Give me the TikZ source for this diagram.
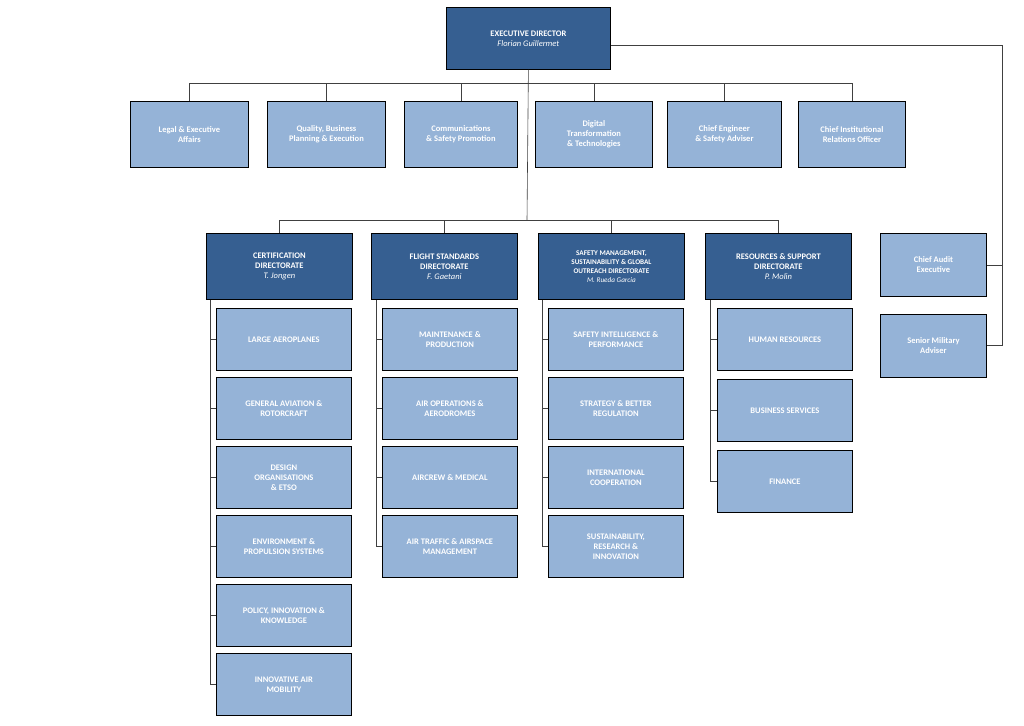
\documentclass[tikz,border=0pt]{standalone}
\usepackage{fontspec}
\setmainfont{Carlito}
\definecolor{dk}{HTML}{365F91}
\definecolor{lt}{HTML}{95B3D7}
\begin{document}
\begin{tikzpicture}[x=1pt,y=-1pt,
 box/.style={draw=black,line width=0.8pt,anchor=north west,align=center,text=white,font=\bfseries\fontsize{8.5}{10}\selectfont,inner sep=1pt},
 dkb/.style={box,fill=dk},
 ltb/.style={box,fill=lt},
 ln/.style={draw=black!75,line width=0.6pt}]
\useasboundingbox (0,0) rectangle (1024,725);
\node[dkb,minimum width=164,minimum height=62] (ed) at (446,7) {EXECUTIVE DIRECTOR\\\normalfont\itshape Florian Guillermet};
\newcommand{\tb}[5]{\node[ltb,minimum width=#3,minimum height=66] (#1) at (#2,101) {#4};
 \draw[ln] (#1.north) -- ++(0,-18);}
\tb{lg}{130}{118}{Legal \& Executive\\Affairs}{}
\tb{qb}{267}{118}{Quality, Business\\Planning \& Execution}{}
\tb{cm}{404}{113}{Communications\\\& Safety Promotion}{}
\tb{dg}{535}{117}{Digital\\Transformation\\\& Technologies}{}
\tb{ce}{667}{114}{Chief Engineer\\\& Safety Adviser}{}
\tb{ci}{798}{107}{Chief Institutional\\Relations Officer}{}
\draw[ln] (lg.north|-0,83) -- (ci.north|-0,83);
\draw[ln] (ed.south) -- (527,220);
\newcommand{\dr}[4]{\node[dkb,minimum width=146,minimum height=66] (#1) at (#2,233) {#3\\\normalfont\itshape #4};
 \draw[ln] (#1.north) -- ++(0,-13);}
\dr{cd}{206}{CERTIFICATION\\DIRECTORATE}{T. Jongen}
\dr{fs}{371}{FLIGHT STANDARDS\\DIRECTORATE}{F. Gaetani}
\node[dkb,minimum width=146,minimum height=66,font=\bfseries\fontsize{7.2}{9}\selectfont] (sm) at (538,233) {SAFETY MANAGEMENT,\\SUSTAINABILITY \& GLOBAL\\OUTREACH DIRECTORATE\\\normalfont\itshape M. Rueda Garcia};
\draw[ln] (sm.north) -- ++(0,-13);
\dr{rs}{705}{RESOURCES \& SUPPORT\\DIRECTORATE}{P. Molin}
\draw[ln] (cd.north|-0,220) -- (rs.north|-0,220);
% right
\node[ltb,minimum width=106,minimum height=63] (ca) at (880,233) {Chief Audit\\Executive};
\node[ltb,minimum width=106,minimum height=63] (sma) at (880,314) {Senior Military\\Adviser};
\coordinate (r1) at (1002,45);
\coordinate (r2) at (1002,345);
\draw[ln] (ed.east|-0,45) -- (r1) -- (r2) -- (sma.east|-0,345);
\draw[ln] (ca.east) -- (ca.east-|r1);
% sub boxes
\newcommand{\subbox}[5]{\node[ltb,minimum width=135,minimum height=62] (#1) at (#2,#3) {#5};
 \draw[ln] (#1.west) -- (#1.west-|#4,0);}
\def\yA{308}\def\yB{377}\def\yC{446}\def\yD{515}\def\yE{584}\def\yF{653}
\subbox{c1}{216}{\yA}{210}{LARGE AEROPLANES}
\subbox{c2}{216}{\yB}{210}{GENERAL AVIATION \&\\ROTORCRAFT}
\subbox{c3}{216}{\yC}{210}{DESIGN\\ORGANISATIONS\\\& ETSO}
\subbox{c4}{216}{\yD}{210}{ENVIRONMENT \&\\PROPULSION SYSTEMS}
\subbox{c5}{216}{\yE}{210}{POLICY, INNOVATION \&\\KNOWLEDGE}
\subbox{c6}{216}{\yF}{210}{INNOVATIVE AIR\\MOBILITY}
\draw[ln] (cd.south-|210,0) -- (c6.west-|210,0);
\subbox{f1}{382}{\yA}{376}{MAINTENANCE \&\\PRODUCTION}
\subbox{f2}{382}{\yB}{376}{AIR OPERATIONS \&\\AERODROMES}
\subbox{f3}{382}{\yC}{376}{AIRCREW \& MEDICAL}
\subbox{f4}{382}{\yD}{376}{AIR TRAFFIC \& AIRSPACE\\MANAGEMENT}
\draw[ln] (fs.south-|376,0) -- (f4.west-|376,0);
\subbox{s1}{548}{\yA}{542}{SAFETY INTELLIGENCE \&\\PERFORMANCE}
\subbox{s2}{548}{\yB}{542}{STRATEGY \& BETTER\\REGULATION}
\subbox{s3}{548}{\yC}{542}{INTERNATIONAL\\COOPERATION}
\subbox{s4}{548}{\yD}{542}{SUSTAINABILITY,\\RESEARCH \&\\INNOVATION}
\draw[ln] (sm.south-|542,0) -- (s4.west-|542,0);
\subbox{r1b}{717}{308}{710}{HUMAN RESOURCES}
\subbox{r2b}{717}{379}{710}{BUSINESS SERVICES}
\subbox{r3b}{717}{450}{710}{FINANCE}
\draw[ln] (rs.south-|710,0) -- (r3b.west-|710,0);
\end{tikzpicture}
\end{document}
